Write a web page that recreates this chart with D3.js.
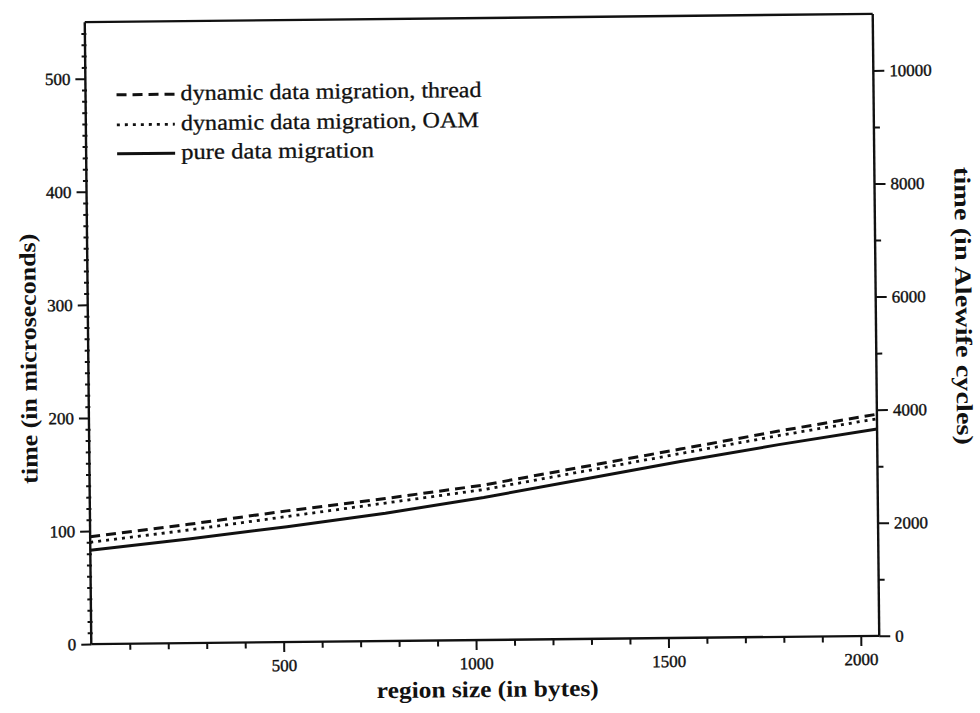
<!DOCTYPE html>
<html><head><meta charset="utf-8">
<script src="https://cdn.jsdelivr.net/npm/d3@7"></script>
<style>
html,body{margin:0;padding:0;background:#fff;}
svg{display:block;}
</style></head>
<body>
<svg id="chart" width="980" height="713" font-family="'Liberation Serif','DejaVu Serif',serif"></svg>
<script>
// ---- data ----
const regionSizes = [0, 256, 512, 768, 1024, 1280, 1536, 1792, 2048];
const dynThread   = [95, 105, 116, 126, 137, 152, 167, 182, 196];
const dynOAM      = [90, 100, 111, 122, 133, 148, 163, 178, 192];
const pureData    = [83, 92, 102, 113, 126, 141, 156, 170, 183];
const seriesNames = ["dynamic data migration, thread", "dynamic data migration, OAM", "pure data migration"];
const xTickLabels = [500, 1000, 1500, 2000];
const yLeftTicks  = [0, 100, 200, 300, 400, 500];
const yRightTicks = [0, 2000, 4000, 6000, 8000, 10000];
const cyclesPerMicrosecond = 20;

// ---- layout ----
const L = 88, R = 876, T = 18, B = 640;
const FONT = "'Liberation Serif','DejaVu Serif',serif";
const svg = d3.select("#chart");
const g = svg.append("g").attr("transform", "rotate(-0.6,482,329)");

const x = d3.scaleLinear().domain([0, 2048]).range([L, R]);
const y = d3.scaleLinear().domain([0, 550]).range([B, T]);
const yR = d3.scaleLinear().domain([0, 550 * cyclesPerMicrosecond]).range([B, T]);

const ink = "#111";

// frame top
g.append("line").attr("x1", L).attr("x2", R).attr("y1", T).attr("y2", T).attr("stroke", ink).attr("stroke-width", 2.4);

// bottom axis
const xMinor = d3.range(100, 2048, 100).filter(v => !xTickLabels.includes(v));
const gx = g.append("g").attr("transform", `translate(0,${B})`)
  .call(d3.axisBottom(x).tickValues(xTickLabels).tickSize(10).tickPadding(7).tickFormat(d3.format("d")));
const gxm = g.append("g").attr("transform", `translate(0,${B})`)
  .call(d3.axisBottom(x).tickValues(xMinor).tickSize(6).tickFormat(""));
gxm.select(".domain").remove();

// left axis
const yMinor = d3.range(10, 550, 10).filter(v => v % 100 !== 0);
const gy = g.append("g").attr("transform", `translate(${L},0)`)
  .call(d3.axisLeft(y).tickValues(yLeftTicks).tickSize(10).tickPadding(5));
const gym = g.append("g").attr("transform", `translate(${L + 1.5},0)`)
  .call(d3.axisLeft(y).tickValues(yMinor).tickSize(5).tickFormat(""));
gym.select(".domain").remove();

// right axis
const yRMinor = [1000, 3000, 5000, 7000, 9000];
const gr = g.append("g").attr("transform", `translate(${R},0)`)
  .call(d3.axisRight(yR).tickValues(yRightTicks).tickSize(11).tickPadding(5).tickFormat(d3.format("d")));
const grm = g.append("g").attr("transform", `translate(${R},0)`)
  .call(d3.axisRight(yR).tickValues(yRMinor).tickSize(6).tickFormat(""));
grm.select(".domain").remove();

[gx, gxm, gy, gym, gr, grm].forEach(a => {
  a.attr("font-family", FONT).attr("font-size", 17);
  a.selectAll(".domain").attr("stroke", ink).attr("stroke-width", 2.4);
  a.selectAll(".tick line").attr("stroke", ink).attr("stroke-width", 2);
  a.selectAll(".tick text").attr("fill", ink).attr("stroke", ink).attr("stroke-width", 0.4);
});
gx.select(".domain").attr("d", `M${L},0H${R}`);
gy.select(".domain").attr("d", `M0,${B}V${T}`);
gr.select(".domain").attr("d", `M0,${B}V${T}`);

// series
const series = [
  {name: seriesNames[0], vals: dynThread, dash: "10,6", w: 3},
  {name: seriesNames[1], vals: dynOAM, dash: "3,5", w: 2.8},
  {name: seriesNames[2], vals: pureData, dash: null, w: 3}
];
const line = d3.line().x(d => x(d[0])).y(d => y(d[1]));
series.forEach(s => {
  g.append("path")
    .datum(regionSizes.map((r, i) => [r, s.vals[i]]))
    .attr("d", line).attr("fill", "none").attr("stroke", ink)
    .attr("stroke-width", s.w).attr("stroke-dasharray", s.dash);
});

// legend
const legY = [91, 121, 150];
const legLen = [301, 298, 193];
series.forEach((s, i) => {
  g.append("line").attr("x1", 119).attr("x2", 177).attr("y1", legY[i]).attr("y2", legY[i])
    .attr("stroke", ink).attr("stroke-width", s.w).attr("stroke-dasharray", s.dash);
  g.append("text").attr("x", 183).attr("y", legY[i] + 6).attr("font-size", 22)
    .attr("fill", ink).attr("stroke", ink).attr("stroke-width", 0.3)
    .attr("textLength", legLen[i]).attr("lengthAdjust", "spacingAndGlyphs").text(s.name);
});

// axis titles
g.append("text").attr("x", 484).attr("y", 697).attr("text-anchor", "middle")
  .attr("font-size", 23).attr("font-weight", "bold").attr("fill", ink)
  .attr("textLength", 222).attr("lengthAdjust", "spacingAndGlyphs").text("region size (in bytes)");
g.append("text").attr("transform", "translate(36,354) rotate(-90)").attr("text-anchor", "middle")
  .attr("font-size", 23).attr("font-weight", "bold").attr("fill", ink)
  .attr("textLength", 250).attr("lengthAdjust", "spacingAndGlyphs").text("time (in microseconds)");
g.append("text").attr("transform", "translate(956,311) rotate(90)").attr("text-anchor", "middle")
  .attr("font-size", 23).attr("font-weight", "bold").attr("fill", ink)
  .attr("textLength", 278).attr("lengthAdjust", "spacingAndGlyphs").text("time (in Alewife cycles)");
</script>
</body></html>
